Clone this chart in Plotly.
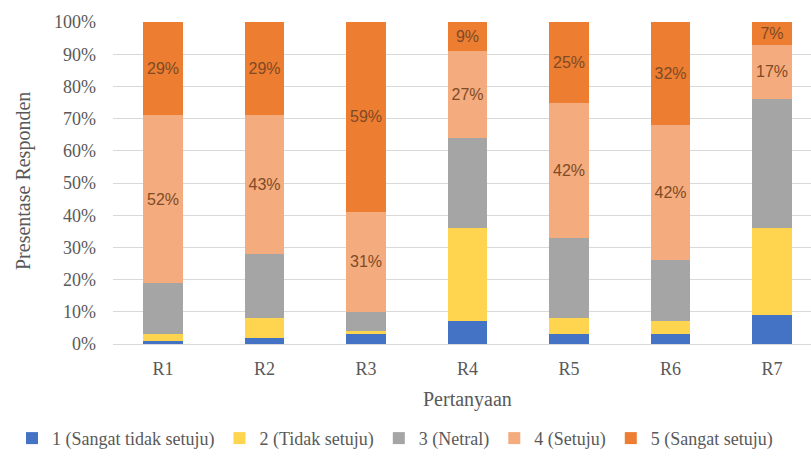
import plotly.graph_objects as go

categories = ["R1", "R2", "R3", "R4", "R5", "R6", "R7"]
series_names = [
    "1 (Sangat tidak setuju)",
    "2 (Tidak setuju)",
    "3 (Netral)",
    "4 (Setuju)",
    "5 (Sangat setuju)",
]
s1 = [1, 2, 3, 7, 3, 3, 9]
s2 = [2, 6, 1, 29, 5, 4, 27]
s3 = [16, 20, 6, 28, 25, 19, 40]
s4 = [52, 43, 31, 27, 42, 42, 17]
s5 = [29, 29, 59, 9, 25, 32, 7]
colors = ["#4472C4", "#FFD54F", "#A5A5A5", "#F4AC7E", "#ED7D31"]
labelled = [False, False, False, True, True]

serif = "Liberation Serif"
grey_text = "#595959"

fig = go.Figure()
for name, vals, col, lab in zip(series_names, [s1, s2, s3, s4, s5], colors, labelled):
    frac = [v / 100 for v in vals]
    fig.add_trace(go.Bar(
        name=name,
        x=categories,
        y=frac,
        marker=dict(color=col, line=dict(width=0)),
        width=0.39,
        text=[f"{v}%" for v in vals] if lab else None,
        textposition="inside" if lab else "none",
        insidetextanchor="middle",
        textangle=0,
        constraintext="none",
        textfont=dict(family="Liberation Sans", size=16, color="#7F4A25"),
        hoverinfo="name+y",
    ))

fig.update_layout(
    barmode="stack",
    width=811,
    height=457,
    margin=dict(l=113, r=0, t=22, b=111),
    paper_bgcolor="white",
    plot_bgcolor="white",
    font=dict(family=serif, color=grey_text, size=18),
    xaxis=dict(
        range=[-0.493, 6.384],
        showgrid=False,
        showline=True,
        linecolor="#D9D9D9",
        linewidth=1,
        ticks="",
        ticklabelstandoff=8,
        tickfont=dict(family=serif, size=18, color=grey_text),
        fixedrange=True,
    ),
    yaxis=dict(
        range=[0, 1],
        dtick=0.1,
        tickformat=".0%",
        showgrid=True,
        gridcolor="#D9D9D9",
        gridwidth=1,
        zeroline=False,
        ticks="",
        ticklabelstandoff=16,
        tickfont=dict(family=serif, size=18, color=grey_text),
        fixedrange=True,
    ),
    legend=dict(
        orientation="h",
        traceorder="normal",
        x=(12 - 113) / 698,
        xanchor="left",
        y=(346 - 441) / 324,
        yanchor="middle",
        font=dict(family=serif, size=18, color=grey_text),
        itemwidth=30,
        bgcolor="rgba(0,0,0,0)",
    ),
    showlegend=True,
    annotations=[
        dict(text="Pertanyaan", xref="paper", yref="paper",
             x=(467 - 113) / 698, y=(346 - 402) / 324,
             xanchor="center", yanchor="middle", showarrow=False,
             font=dict(family=serif, size=20, color=grey_text)),
        dict(text="Presentase Responden", xref="paper", yref="paper",
             x=(23 - 113) / 698, y=(346 - 182) / 324,
             xanchor="center", yanchor="middle", showarrow=False,
             textangle=-90,
             font=dict(family=serif, size=20, color=grey_text)),
    ],
)

fig.write_html("out.html")
